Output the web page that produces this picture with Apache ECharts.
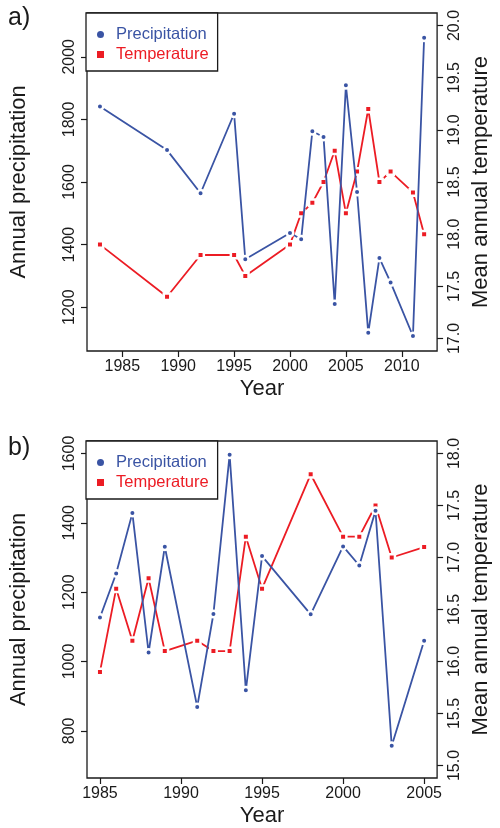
<!DOCTYPE html>
<html>
<head>
<meta charset="utf-8">
<script src="https://cdn.jsdelivr.net/npm/echarts@6/dist/echarts.min.js"></script>
<style>html,body{margin:0;padding:0;background:#fff}#c{width:500px;height:828px}</style>
</head>
<body>
<div id="c"></div>
<script>
// ---- data ----
const yearsA  = [1983,1989,1992,1995,1996,2000,2001,2002,2003,2004,2005,2006,2007,2008,2009,2011,2012];
const precipA = [1841,1702,1564,1818,1353,1437,1417,1762,1744,1210,1909,1568,1118,1357,1279,1108,2061];
const tempA   = [17.9,17.4,17.8,17.8,17.6,17.9,18.2,18.3,18.5,18.8,18.2,18.6,19.2,18.5,18.6,18.4,18.0];

const yearsB  = [1985,1986,1987,1988,1989,1991,1992,1993,1994,1995,1998,2000,2001,2002,2003,2005];
const precipB = [1127,1254,1428,1026,1331,869,1137,1596,917,1304,1136,1332,1277,1435,757,1060];
const tempB   = [15.9,16.7,16.2,16.8,16.1,16.2,16.1,16.1,17.2,16.7,17.8,17.2,17.2,17.5,17.0,17.1];

const xTicksA  = [1985,1990,1995,2000,2005,2010];
const xTicksB  = [1985,1990,1995,2000,2005];
const pTicksA  = [1200,1400,1600,1800,2000];
const tTicksA  = [17.0,17.5,18.0,18.5,19.0,19.5,20.0];
const pTicksB  = [800,1000,1200,1400,1600];
const tTicksB  = [15.0,15.5,16.0,16.5,17.0,17.5,18.0];

// ---- styling ----
const FONT = 'Liberation Sans, Arial, sans-serif';
const BLUE = '#3a54a4', RED = '#ec1c24', INK = '#1a1a1a';
const zip = (xs, ys) => xs.map((x, i) => [x, ys[i]]);

function xAxis(gridIndex, min, max, ticks) {
  return {
    type: 'value', gridIndex, min, max,
    name: 'Year', nameLocation: 'middle', nameGap: 27,
    nameTextStyle: { fontSize: 22, fontFamily: FONT, color: INK },
    axisLine: { show: false },
    axisTick: { show: true, length: 6, customValues: ticks, lineStyle: { color: INK, width: 1.2 } },
    axisLabel: { customValues: ticks, margin: 8, fontSize: 16, fontFamily: FONT, color: INK,
                 formatter: v => String(v) },
    splitLine: { show: false }
  };
}
function yAxis(gridIndex, pos, min, max, ticks, name, dec) {
  return {
    type: 'value', gridIndex, position: pos, min, max,
    name, nameLocation: 'middle', nameGap: pos === 'left' ? 57 : 32,
    nameTextStyle: { fontSize: 22, fontFamily: FONT, color: INK },
    axisLine: { show: false },
    axisTick: { show: true, length: 6, customValues: ticks, lineStyle: { color: INK, width: 1.2 } },
    axisLabel: { customValues: ticks, rotate: 90, margin: 9, fontSize: 16, fontFamily: FONT, color: INK,
                 formatter: v => dec ? v.toFixed(1) : String(v) },
    splitLine: { show: false }
  };
}
function series(name, xi, yi, data, color, symbol) {
  return {
    name, type: 'line', xAxisIndex: xi, yAxisIndex: yi, data,
    symbol, symbolSize: 6.5,
    showAllSymbol: true,
    lineStyle: { color, width: 1.8 },
    itemStyle: { color, borderColor: '#fff', borderWidth: 2.5 },
    emphasis: { disabled: true }, animation: false, z: symbol === 'circle' ? 3 : 2
  };
}
function legend(top) {
  return {
    left: 86, top, orient: 'vertical',
    backgroundColor: '#fff', borderColor: INK, borderWidth: 1.3,
    padding: [13, 9, 8, 11], itemGap: 3, itemWidth: 7, itemHeight: 7,
    selectedMode: false,
    itemStyle: { borderWidth: 0 },
    textStyle: { fontSize: 16.5, fontFamily: FONT, padding: [0, 0, 0, 7] },
    data: [
      { name: 'Precipitation', icon: 'circle', textStyle: { color: BLUE }, itemStyle: { color: BLUE, borderWidth: 0 } },
      { name: 'Temperature', icon: 'rect', textStyle: { color: RED }, itemStyle: { color: RED, borderWidth: 0 } }
    ]
  };
}

const chart = echarts.init(document.getElementById('c'), null, { renderer: 'canvas' });
chart.setOption({
  animation: false,
  backgroundColor: '#fff',
  title: [
    { text: 'a)', left: 8, top: 6, padding: 0, textStyle: { fontSize: 25, fontWeight: 'normal', fontFamily: FONT, color: INK } },
    { text: 'b)', left: 8, top: 436, padding: 0, textStyle: { fontSize: 25, fontWeight: 'normal', fontFamily: FONT, color: INK } }
  ],
  grid: [
    { left: 86, width: 359, top: 13, height: 338, show: true, borderColor: INK, borderWidth: 1.3, backgroundColor: 'transparent' },
    { left: 86, width: 359, top: 441, height: 337, show: true, borderColor: INK, borderWidth: 1.3, backgroundColor: 'transparent' }
  ],
  legend: [legend(13), legend(441)],
  xAxis: [
    xAxis(0, 1981.84, 2013.16, xTicksA),
    xAxis(1, 1984.2, 2005.8, xTicksB)
  ],
  yAxis: [
    yAxis(0, 'left', 1060, 2140, pTicksA, 'Annual precipitation', false),
    yAxis(0, 'right', 16.88, 20.12, tTicksA, 'Mean annual temperature', true),
    yAxis(1, 'left', 664, 1636, pTicksB, 'Annual precipitation', false),
    yAxis(1, 'right', 14.88, 18.12, tTicksB, 'Mean annual temperature', true)
  ],
  series: [
    series('Temperature', 0, 1, zip(yearsA, tempA), RED, 'rect'),
    series('Precipitation', 0, 0, zip(yearsA, precipA), BLUE, 'circle'),
    series('Temperature', 1, 3, zip(yearsB, tempB), RED, 'rect'),
    series('Precipitation', 1, 2, zip(yearsB, precipB), BLUE, 'circle')
  ]
});
</script>
</body>
</html>
